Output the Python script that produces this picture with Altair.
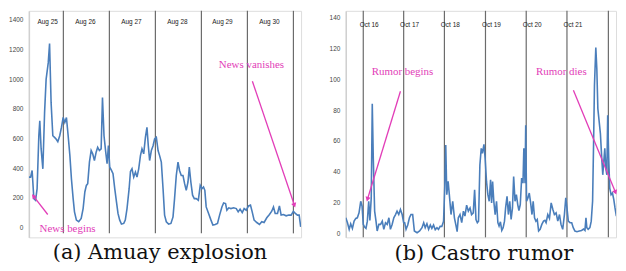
import altair as alt
import pandas as pd

# ---------------- data: (a) Amuay explosion ----------------
amuay_hours = [0, 0.9, 1.7, 2.6, 3.5, 4.3, 5.2, 5.7, 6.4, 7.3, 8.2, 9.0, 10.1, 10.8, 11.6, 12.5,
               13.4, 14.2, 15.1, 16.1, 17.0, 17.9, 18.75, 19.6, 20.5, 21.4, 22.2, 23.1, 23.8, 24.8,
               26.0, 27.3, 28.3, 29.2, 30.0, 30.7, 31.6, 32.5, 33.3, 34.2, 35.1, 35.9, 36.8, 37.7,
               38.4, 39.2, 40.1, 40.8, 41.5, 42.2, 43.1, 43.9, 44.8, 45.7, 46.5, 47.4, 48.3, 49.5,
               50.3, 51.2, 52.3, 53.0, 53.8, 54.7, 55.6, 56.4, 57.3, 58.2, 59.0, 59.9, 60.8, 61.6,
               62.3, 63.0, 63.9, 64.8, 65.6, 66.5, 67.4, 68.2, 69.1, 70.0, 70.8, 71.7, 72.9, 74.1,
               75.2, 76.0, 76.9, 77.8, 78.6, 79.5, 80.4, 81.25, 82.1, 83.0, 83.7, 84.5, 85.4, 86.3,
               87.3, 88.4, 89.4, 90.3, 91.1, 91.8, 92.5, 93.75, 95.0, 96.0, 97.2, 98.4, 99.5, 100.7,
               101.6, 102.6, 103.3, 104.3, 105.4, 106.8, 108.2, 109.2, 110.2, 111.3, 112.3, 113.4,
               114.6, 115.6, 116.5, 117.5, 118.9, 120.3, 121.5, 122.7, 124.1, 125.5, 126.7, 127.6,
               128.5, 129.7, 130.7, 131.6, 132.8, 134.2, 135.6, 136.8, 138.0, 139.0, 140.1, 141.0,
               141.8]
amuay_counts = [339, 339, 384, 194, 183, 261, 618, 719, 529, 395, 775, 998, 1109, 1239, 841, 618,
                607, 596, 578, 618, 674, 741, 708, 741, 618, 484, 328, 194, 105, 49,
                38, 60, 127, 239, 283, 295, 440, 518, 496, 451, 507, 540, 518, 529,
                875, 618, 507, 429, 551, 406, 384, 362, 261, 172, 94, 49, 22, 27,
                49, 127, 261, 377, 395, 339, 373, 339, 395, 484, 529, 496, 607, 674,
                551, 451, 518, 551, 596, 607, 518, 484, 440, 261, 83, 38, 22, 27,
                71, 194, 350, 440, 384, 350, 350, 295, 250, 306, 406, 306, 217, 194,
                194, 183, 283, 261, 272, 250, 138, 94, 49, 16, 20, 27, 83, 138,
                165, 161, 116, 132, 127, 132, 127, 105, 123, 100, 127, 116,
                145, 150, 105, 49, 33, 20, 38, 33, 65, 87, 109, 138,
                94, 94, 145, 83, 87, 78, 83, 83, 109, 94, 83, 83,
                4]
amuay_day_labels = ["Aug 25", "Aug 26", "Aug 27", "Aug 28", "Aug 29", "Aug 30"]
amuay_label_hours = [9.8, 29.5, 53.5, 77.5, 101.0, 125.5]
amuay_day_bounds = [18, 42, 66, 90, 114, 138]
amuay_ticks = [0, 200, 400, 600, 800, 1000, 1200, 1400]

# ---------------- data: (b) Castro rumor ----------------
castro_hours = [0, 1, 2, 2.9, 3.9, 4.9, 5.9, 6.8, 7.8, 8.8, 9.6, 10.3, 11.1, 11.9, 12.7, 13.5, 14.2,
                15.0, 15.6, 16.2, 17.0, 17.8, 18.5, 19.5, 20.5, 21.5, 22.4, 23.4, 24.4, 25.4, 26.3,
                27.3, 28.3, 29.3, 30.2, 31.2, 32.2, 33.2, 34.1, 34.7, 35.5, 36.5, 37.5, 38.4, 39.4,
                40.4, 42.0, 43.5, 44.9, 45.9, 46.8, 47.8, 48.8, 49.8, 50.7, 51.7, 52.7, 53.7, 54.6,
                55.6, 56.6, 57.6, 58.3, 58.9, 59.5, 60.3, 61.0, 62.0, 63.0, 64.0, 65.0, 65.6, 66.3,
                67.3, 68.3, 69.3, 70.2, 71.2, 72.2, 73.2, 74.1, 75.1, 75.9, 76.7, 77.5, 78.2, 79.0,
                79.8, 80.5, 81.4, 82.1, 82.9, 83.7, 84.5, 85.3, 85.9, 86.5, 87.2, 88.0, 88.8, 89.6,
                90.3, 91.1, 91.9, 92.7, 93.5, 94.2, 95.0, 95.8, 96.6, 97.4, 98.2, 98.9, 99.7, 100.5,
                101.3, 102.0, 102.8, 103.6, 104.4, 104.9, 105.6, 106.0, 106.5, 107.3, 108.1, 108.9,
                109.7, 110.4, 111.2, 112.0, 112.8, 113.6, 114.5, 115.5, 116.5, 117.3, 118.0, 119.0,
                120.0, 121.0, 122.0, 122.9, 123.9, 124.9, 125.9, 126.8, 127.8, 128.8, 129.6, 130.3,
                131.1, 132.1, 133.1, 134.0, 135.0, 136.2, 137.6, 138.9, 140.1, 140.9, 141.5, 142.0,
                142.8, 143.8, 144.6, 145.4, 146.0, 146.5, 147.3, 147.9, 148.5, 149.3, 150.0, 150.8,
                151.4, 152.0, 152.6, 153.2, 153.8, 154.3, 154.9, 155.5, 156.3, 157.1, 157.9, 158.6,
                159.4, 160.0, 160.6, 161.4, 162.0, 162.7, 163.5, 164.3]
castro_counts = [10.1, 6.9, 2.6, 6.2, 3.2, 7.9, 9.7, 10.1, 13.3, 20.8, 17.6, 5.8, 4.1, 3.2, 7.9, 20.8, 8.4,
                 23.0, 84.2, 48.7, 14.4, 7.9, 1.5, 5.8, 5.8, 7.9, 2.6, 6.9, 5.8, 10.1, 2.6,
                 5.8, 10.1, 12.2, 14.4, 12.2, 15.5, 12.2, 6.9, 6.9, 2.6, 5.4, 10.1, 12.2, 12.2,
                 1.5, 0.4, 1.5, 3.7, 6.9, 3.7, 6.2, 2.6, 5.4, 3.2, 5.4, 2.4, 3.7, 2.6,
                 4.5, 4.5, 7.9, 29.4, 57.3, 25.1, 33.7, 25.1, 12.2, 20.8, 10.1, 4.7, 1.1, 10.1,
                 12.2, 6.9, 14.4, 11.2, 18.3, 14.4, 16.5, 12.2, 13.3, 28.3, 9.0, 6.9, 7.9, 44.4,
                 55.2, 52.0, 57.8, 48.7, 33.7, 25.1, 20.8, 34.8, 19.8, 33.7, 20.8, 12.2, 20.8, 6.9,
                 4.7, 7.5, 1.9, 3.7, 7.9, 17.0, 24.0, 12.2, 20.8, 9.0, 16.5, 36.9, 20.8, 25.1,
                 18.7, 14.8, 18.7, 35.9, 32.6, 55.2, 32.6, 70.2, 20.8, 23.0, 26.2, 19.8,
                 12.2, 20.8, 10.1, 7.9, 9.0, 1.5, 2.6, 5.8, 7.9, 8.4, 6.9, 12.2,
                 9.7, 19.8, 15.5, 12.2, 13.3, 7.9, 12.2, 5.8, 2.6, 12.2, 23.0, 16.5,
                 7.9, 6.9, 6.9, 3.7, 1.5, 1.1, 1.5, 1.9, 2.8, 1.9, 10.1, 3.7,
                 2.6, 3.7, 7.9, 20.8, 59.5, 96.0, 120.7, 106.7, 81.0, 72.4, 64.8, 48.7,
                 38.0, 46.6, 55.2, 42.3, 38.0, 76.7, 48.7, 29.4, 25.1, 26.2, 21.9, 16.5,
                 11.2, 17.6, 12.2, 16.5, 12.2, 17.6, 23.0, 55.2]
castro_day_labels = ["Oct 16", "Oct 17", "Oct 18", "Oct 19", "Oct 20", "Oct 21"]
castro_label_hours = [13.8, 37.6, 61.6, 85.8, 109.8, 133.8]
castro_day_bounds = [10.3, 34.1, 58.1, 82.3, 106.3, 130.3, 154.7]
castro_ticks = [0, 20, 40, 60, 80, 100, 120, 140]

# annotations (data coordinates)
amuay_notes = ["News vanishes", "News begins"]
amuay_note_x = [116.1, 20.2]
amuay_note_y = [1092, -13]
amuay_arrow_x = [116.6, 9.85]
amuay_arrow_y = [985, 87]
amuay_arrow_x2 = [138.4, 2.6]
amuay_arrow_y2 = [154, 208]
amuay_arrow_angle = [161, 322]

castro_notes = ["Rumor begins", "Rumor dies"]
castro_note_x = [33.4, 127.0]
castro_note_y = [104.5, 104.5]
castro_arrow_x = [32.2, 134.1]
castro_arrow_y = [92.3, 92.9]
castro_arrow_x2 = [12.9, 158.7]
castro_arrow_y2 = [22.6, 27.1]
castro_arrow_angle = [197, 158]

LINE = "#4a7ebb"
PINK = "#e23db8"
RULE = "#6b6b6b"


def panel(hours, counts, bounds, labels, label_hours, ticks, xdom, ydom, w, h,
          notes, nx, ny, ax, ay, ax2, ay2, ang, caption, rule_y2, cap_dx, day_y):
    xs = alt.Scale(domain=xdom, nice=False, zero=False)
    ys = alt.Scale(domain=ydom, nice=False, zero=False)
    yaxis = alt.Axis(values=ticks, format="d", ticks=False, grid=False, title=None,
                     labelFontSize=6.5, labelColor="#444", labelFont="Liberation Sans",
                     domainColor="#d0d0d0", domainWidth=1.5, labelPadding=6)
    series = pd.DataFrame({"h": hours, "v": counts})
    bdf = pd.DataFrame({"h": bounds})
    ldf = pd.DataFrame({"h": label_hours, "t": labels})
    ndf = pd.DataFrame({"x": nx, "y": ny, "t": notes})
    adf = pd.DataFrame({"x": ax, "y": ay, "x2": ax2, "y2": ay2, "a": ang})

    rules = alt.Chart(bdf).mark_rule(color=RULE, strokeWidth=1.2).encode(
        x=alt.X("h:Q", scale=xs, axis=None), y=alt.value(0), y2=alt.value(rule_y2))
    line = alt.Chart(series).mark_line(color=LINE, strokeWidth=1.6, clip=True).encode(
        x=alt.X("h:Q", scale=xs, axis=None),
        y=alt.Y("v:Q", scale=ys, axis=yaxis))
    days = alt.Chart(ldf).mark_text(fontSize=6.5, font="Liberation Sans", color="#222").encode(
        x=alt.X("h:Q", scale=xs, axis=None), y=alt.value(day_y), text="t:N")
    notes_t = alt.Chart(ndf).mark_text(fontSize=11, font="Liberation Serif", color=PINK).encode(
        x=alt.X("x:Q", scale=xs, axis=None), y=alt.Y("y:Q", scale=ys, axis=yaxis), text="t:N")
    arrows = alt.Chart(adf).mark_rule(color=PINK, strokeWidth=1.3).encode(
        x=alt.X("x:Q", scale=xs, axis=None), y=alt.Y("y:Q", scale=ys, axis=yaxis),
        x2="x2:Q", y2="y2:Q")
    heads = alt.Chart(adf).mark_point(shape="triangle", filled=True, color=PINK, size=28,
                                      opacity=1).encode(
        x=alt.X("x2:Q", scale=xs, axis=None), y=alt.Y("y2:Q", scale=ys, axis=yaxis),
        angle=alt.Angle("a:Q", scale=None))
    return alt.layer(rules, line, days, arrows, heads, notes_t).properties(
        width=w, height=h,
        title=alt.TitleParams(caption, orient="bottom", font="DejaVu Serif", fontSize=21,
                              fontWeight="normal", color="#111", offset=5, dx=cap_dx))


left = panel(amuay_hours, amuay_counts, amuay_day_bounds, amuay_day_labels, amuay_label_hours,
             amuay_ticks, [0, 142], [-67, 1460], 274, 228,
             amuay_notes, amuay_note_x, amuay_note_y, amuay_arrow_x, amuay_arrow_y,
             amuay_arrow_x2, amuay_arrow_y2, amuay_arrow_angle, "(a) Amuay explosion", 224, -5, 11)
right = panel(castro_hours, castro_counts, castro_day_bounds, castro_day_labels, castro_label_hours,
              castro_ticks, [0, 159.2], [-2.6, 144.5], 272, 228,
              castro_notes, castro_note_x, castro_note_y, castro_arrow_x, castro_arrow_y,
              castro_arrow_x2, castro_arrow_y2, castro_arrow_angle, "(b) Castro rumor", 228, 3, 14)

chart = alt.hconcat(left, right, spacing=26).configure_view(stroke=None).configure(
    padding=0, background="white")

chart.save("out.html", embed_options={"renderer": "svg", "actions": False})
